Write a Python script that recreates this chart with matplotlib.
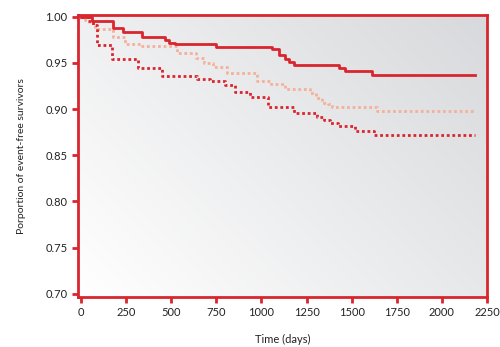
import matplotlib
matplotlib.use("Agg")
import matplotlib.pyplot as plt
import numpy as np
from matplotlib.colors import LinearSegmentedColormap

plt.rcParams['font.family'] = ['Lato', 'DejaVu Sans']

# solid red curve
t_solid = [0, 59, 179, 235, 336, 466, 490, 521, 747, 1058, 1095, 1130, 1150, 1180, 1210, 1427, 1464, 1612, 2185]
s_solid = [1.000, 0.995, 0.988, 0.983, 0.978, 0.975, 0.972, 0.970, 0.967, 0.965, 0.959, 0.954, 0.951, 0.948, 0.948, 0.945, 0.941, 0.937, 0.937]

# light (salmon) dotted curve
t_light = [0, 20, 45, 78, 176, 244, 336, 530, 638, 680, 732, 808, 974, 1050, 1130, 1270, 1300, 1335, 1370, 1390, 1640, 2185]
s_light = [1.000, 0.997, 0.993, 0.987, 0.978, 0.971, 0.968, 0.961, 0.955, 0.950, 0.946, 0.939, 0.930, 0.927, 0.922, 0.917, 0.912, 0.907, 0.905, 0.902, 0.898, 0.898]

# red dotted curve
t_dot = [0, 39, 67, 87, 170, 318, 447, 641, 715, 798, 854, 937, 1037, 1181, 1307, 1345, 1380, 1425, 1520, 1625, 2185]
s_dot = [1.000, 0.995, 0.991, 0.969, 0.954, 0.945, 0.936, 0.933, 0.930, 0.926, 0.918, 0.913, 0.902, 0.896, 0.891, 0.888, 0.885, 0.882, 0.876, 0.872, 0.872]

x_ticks = [0, 250, 500, 750, 1000, 1250, 1500, 1750, 2000, 2250]
y_ticks = [0.70, 0.75, 0.80, 0.85, 0.90, 0.95, 1.00]

red = '#d9252e'
light = '#f4b09a'

fig = plt.figure(figsize=(5, 3.47), dpi=100)
ax = fig.add_axes([0.156, 0.144, 0.818, 0.813])

# gradient background: white bottom-left to grey top-right
cmap = LinearSegmentedColormap.from_list('bg', ['#ffffff', '#d8d9dc'])
gx, gy = np.meshgrid(np.linspace(0, 1, 200), np.linspace(0, 1, 200))
grad = (gx * 0.6 + gy * 0.4)
ax.imshow(grad, cmap=cmap, extent=[0, 1, 0, 1], origin='lower',
          transform=ax.transAxes, aspect='auto', zorder=0, interpolation='bilinear')

ax.plot(t_light, s_light, drawstyle='steps-post', color=light, lw=2,
        linestyle=(0, (1, 1)), zorder=2)
ax.plot(t_dot, s_dot, drawstyle='steps-post', color=red, lw=2,
        linestyle=(0, (1, 1)), zorder=3)
ax.plot(t_solid, s_solid, drawstyle='steps-post', color=red, lw=2, zorder=4)

ax.set_xlim(-17, 2250)
ax.set_ylim(0.6965, 1.002)
ax.set_xticks(x_ticks)
ax.set_yticks(y_ticks)
ax.set_yticklabels([f'{v:.2f}' for v in y_ticks])

for sp in ax.spines.values():
    sp.set_color(red)
    sp.set_linewidth(2)
ax.tick_params(axis='both', colors=red, width=2, length=4, labelsize=8,
               labelcolor='#222222', direction='out')

ax.set_xlabel('Time (days)', fontsize=8, color='#222222', labelpad=11)
ax.set_ylabel('Porportion of event-free survivors', fontsize=7.5, color='#222222', labelpad=14)

fig.savefig('out.png', dpi=100)
